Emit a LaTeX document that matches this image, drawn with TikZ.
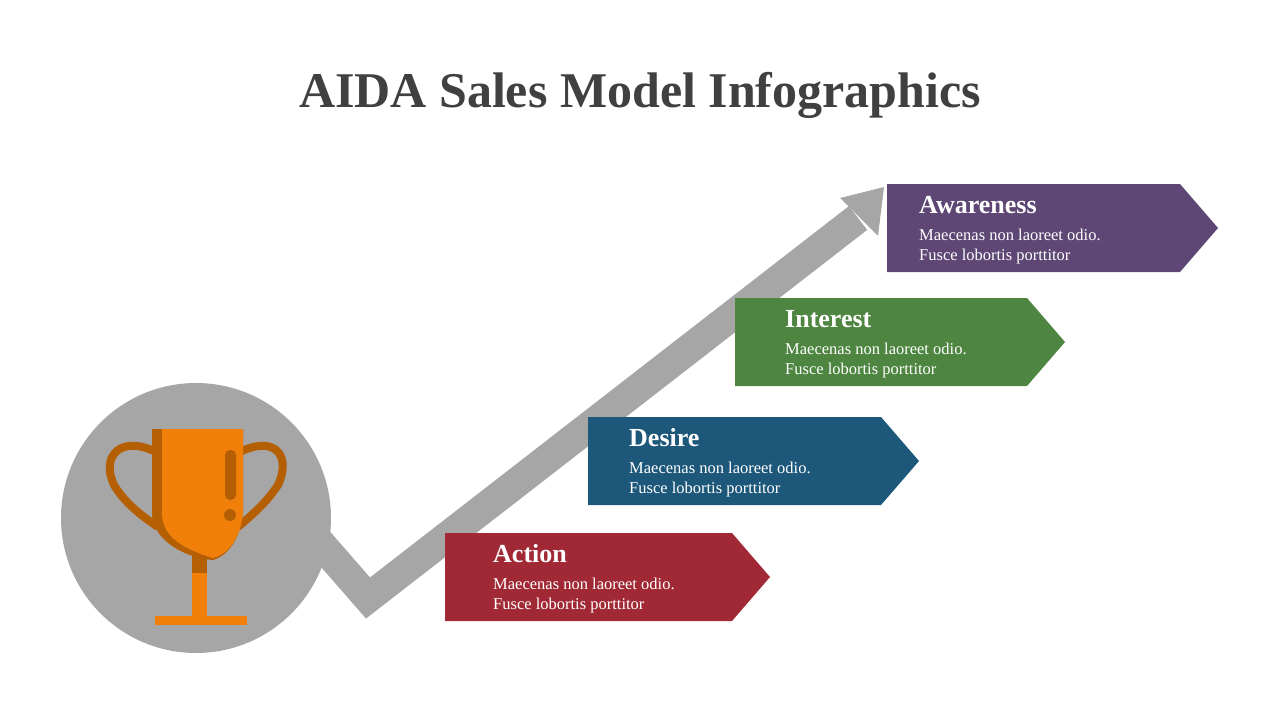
\documentclass[tikz,border=0pt]{standalone}
\usepackage{fontspec}
\setmainfont{Liberation Serif}
\definecolor{cpur}{HTML}{5E4775}
\definecolor{cgre}{HTML}{4E8541}
\definecolor{cblu}{HTML}{1D587A}
\definecolor{cred}{HTML}{A02935}
\definecolor{cgry}{HTML}{A6A6A6}
\definecolor{corg}{HTML}{F0800A}
\definecolor{cdrk}{HTML}{B55F05}
\definecolor{ctit}{HTML}{404040}
\tikzset{
 head/.style={anchor=base west,text=white,font=\fontsize{26}{26}\selectfont\bfseries,inner sep=0},
 body/.style={anchor=north west,text=white,font=\fontsize{16.5}{19.5}\selectfont,align=left,inner sep=0}
}
\begin{document}
\begin{tikzpicture}[x=1pt,y=-1pt]
\useasboundingbox (0,0) rectangle (1280,720);
\node[font=\fontsize{50}{50}\selectfont\bfseries,text=ctit] (title) at (640,95) {AIDA Sales Model Infographics};
% arrow
\draw[cgry,line width=30,line join=miter] (300,520) -- (368,598) -- (858,218);
\fill[cgry] (840,198) -- (884,187) -- (878,236) -- cycle;
\coordinate (tip) at (884,187);
% circle
\node[circle,fill=cgry,minimum size=270,inner sep=0] (circ) at (196,518) {};
% trophy
\draw[cdrk,line width=8] (158,453) .. controls (122,434) and (100,455) .. (114,485) .. controls (126,505) and (145,518) .. (158,527);
\draw[cdrk,line width=8] (238,453) .. controls (274,434) and (292,455) .. (278,485) .. controls (265,505) and (248,518) .. (238,527);
\fill[cdrk] (152,429) -- (243,429) -- (243,513) .. controls (240,545) and (222,558) .. (213,560) .. controls (185,558) and (152,540) .. (152,513) -- cycle;
\fill[corg] (162,429) -- (243,429) -- (243,513) .. controls (240,545) and (222,556) .. (213,558) .. controls (180,548) and (162,535) .. (162,513) -- cycle;
\fill[cdrk] (192,556) rectangle (207,573);
\fill[corg] (192,573) rectangle (207,617);
\fill[corg] (155,616) rectangle (247,625);
\fill[cdrk,rounded corners=5] (225,450) rectangle (236,500);
\fill[cdrk] (230,515) circle (6);
% ribbons
\foreach \n/\c/\x/\y/\w/\o/\t in {aw/cpur/887/184/293/32/Awareness, in/cgre/735/298/292/50/Interest, de/cblu/588/417/293/41/Desire, ac/cred/445/533/287/48/Action}{
 \fill[\c] (\x,\y) -- ({\x+\w},\y) -- ({\x+\w+38},{\y+44}) -- ({\x+\w},{\y+88}) -- (\x,{\y+88}) -- cycle;
 \node[head] (\n h) at ({\x+\o},{\y+29}) {\t};
 \node[body] (\n b) at ({\x+\o},{\y+45}) {Maecenas non laoreet odio.\\Fusce lobortis porttitor};
}
\end{tikzpicture}
\end{document}
